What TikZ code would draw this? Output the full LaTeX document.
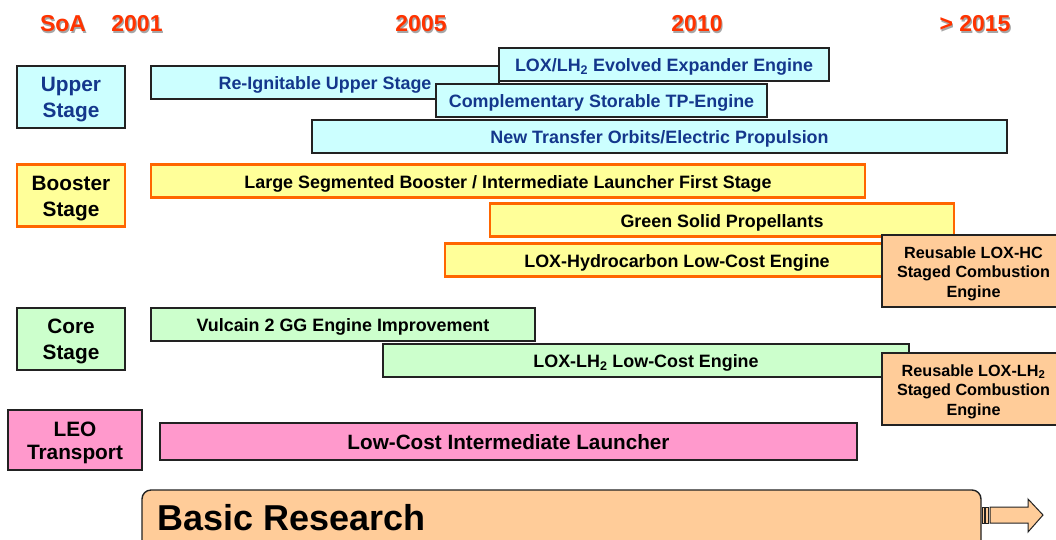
\documentclass[tikz,border=0pt]{standalone}
\usepackage{fontspec}
\setmainfont{Liberation Sans}
\definecolor{upfill}{HTML}{CCFFFF}
\definecolor{uptext}{RGB}{20,55,140}
\definecolor{bofill}{HTML}{FFFF99}
\definecolor{boline}{HTML}{FF6600}
\definecolor{cofill}{HTML}{CCFFCC}
\definecolor{leofill}{HTML}{FF99CC}
\definecolor{refill}{HTML}{FFCC99}
\definecolor{hdr}{HTML}{FF3300}
\definecolor{frame}{HTML}{222222}
\begin{document}
\begin{tikzpicture}[x=1pt,y=-1pt,
  base/.style={rectangle, inner sep=0pt, align=center, line width=1.2pt,
    font=\fontsize{17.9}{20}\selectfont\bfseries, text height=15pt, text depth=1pt},
  upbox/.style={base, draw=frame, fill=upfill, text=uptext, minimum height=33},
  bobox/.style={base, draw=boline, line width=2.2pt, fill=bofill, minimum height=33},
  cobox/.style={base, draw=frame, fill=cofill, minimum height=33},
  leobox/.style={base, draw=frame, fill=leofill, minimum height=37},
  rebox/.style={rectangle, draw=frame, fill=refill, line width=1.2pt, minimum width=183, minimum height=72},
  labbox/.style={rectangle, line width=1.2pt, minimum width=108, minimum height=62},
  labtext/.style={inner sep=0pt, align=center, font=\fontsize{20.8}{25.5}\selectfont\bfseries},
  retext/.style={inner sep=0pt, align=center, font=\fontsize{16.2}{19.5}\selectfont\bfseries},
  hd/.style={inner sep=0pt, text=hdr, font=\fontsize{23}{26}\selectfont\bfseries},
  hdsh/.style={inner sep=0pt, text=black!35, font=\fontsize{23}{26}\selectfont\bfseries}
]
\useasboundingbox (0,0) rectangle (1056,539);
\fill[white] (0,0) rectangle (1056,539);

% headers (shadow then text)
\foreach \n/\x/\t in {sa/63/SoA, y1/137/2001, y5/421/2005, y10/697/2010, y15/975/{> 2015}}{
  \node[hdsh] at (\x+1.2,25.2) {\t};
  \node[hd] (h\n) at (\x,24) {\t};
}

% Upper stage
\node[labbox, draw=frame, fill=upfill] (lup) at (71,97) {};
\node[labtext, text=uptext] (lupt) at (71,99.5) {Upper\\Stage};
\node[upbox, minimum width=348] (reig) at (325,82.5) {Re-Ignitable Upper Stage};
\node[upbox, minimum width=330] (loxexp) at (664,64.5) {LOX/LH\textsubscript{2} Evolved Expander Engine};
\node[upbox, minimum width=331] (comp) at (601.5,100.5) {Complementary Storable TP-Engine};
\node[upbox, minimum width=695] (newt) at (659.5,136.5) {New Transfer Orbits/Electric Propulsion};

% Booster stage
\node[labbox, draw=boline, line width=2.2pt, fill=bofill] (lbo) at (71,195.5) {};
\node[labtext] (lbot) at (71,198.5) {Booster\\Stage};
\node[bobox, minimum width=714] (lsb) at (508,181) {Large Segmented Booster / Intermediate Launcher First Stage};
\node[bobox, minimum width=464] (gsp) at (722,220) {Green Solid Propellants};
\node[bobox, minimum width=464] (loxhc) at (677,260) {LOX-Hydrocarbon Low-Cost Engine};
\node[rebox] (rhc) at (973.5,271) {};
\node[retext] (rhct) at (973.5,273.5) {Reusable LOX-HC\\Staged Combustion\\Engine};

% Core stage
\node[labbox, draw=frame, fill=cofill] (lco) at (71,339) {};
\node[labtext] (lcot) at (71,341.5) {Core\\Stage};
\node[cobox, minimum width=384] (vul) at (343,324.5) {Vulcain 2 GG Engine Improvement};
\node[cobox, minimum width=526] (loxlh) at (646,360.5) {LOX-LH\textsubscript{2} Low-Cost Engine};
\node[rebox] (rlh) at (973.5,389) {};
\node[retext] (rlht) at (973.5,391.5) {Reusable LOX-LH\textsubscript{2}\\Staged Combustion\\Engine};

% LEO transport
\node[labbox, draw=frame, fill=leofill, minimum width=134, minimum height=60] (lleo) at (75,440) {};
\node[labtext, font=\fontsize{20.8}{23.5}\selectfont\bfseries] (lleot) at (75,443) {LEO\\Transport};
\node[leobox, minimum width=697, font=\fontsize{20.7}{23}\selectfont\bfseries, text depth=0pt] (lcil) at (508.5,441.5) {Low-Cost Intermediate Launcher};

% Basic research
\draw[frame, fill=refill, line width=1.4pt, rounded corners=9] (142,575) -- (142,490) -- (981,490) -- (981,575);
\node[anchor=west, inner sep=0pt, font=\fontsize{36}{40}\selectfont\bfseries] (br) at (157,518) {Basic Research};
\draw[frame, fill=refill, line width=0.8pt] (982,507) rectangle (984.3,523);
\draw[frame, fill=refill, line width=0.8pt] (985.3,507) rectangle (988.3,523);
\draw[frame, fill=refill, line width=1pt, line join=miter] (990,507) -- (1028,507) -- (1028,499) -- (1043,515) -- (1028,532) -- (1028,523) -- (990,523) -- cycle;
\end{tikzpicture}
\end{document}
